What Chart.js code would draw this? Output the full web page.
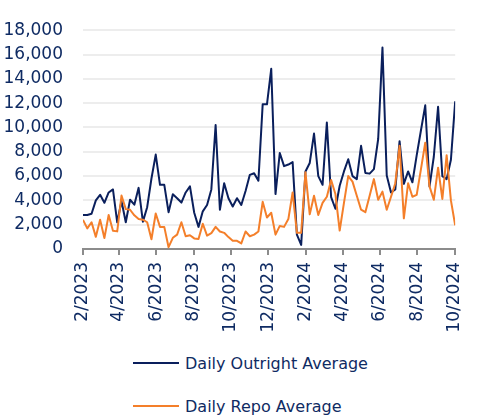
<!DOCTYPE html>
<html>
<head>
<meta charset="utf-8">
<script src="https://cdn.jsdelivr.net/npm/chart.js@4.4.1/dist/chart.umd.min.js"></script>
<style>
  html, body { margin: 0; padding: 0; background: #fff; }
  #wrap   { position: relative; width: 482px; height: 419px; overflow: hidden; }
  #chart  { position: absolute; left: 0; top: 0; }
  .legend-row {
      position: absolute; left: 133px; height: 20px;
      display: flex; align-items: center; white-space: nowrap;
      font: 16px "DejaVu Sans", sans-serif; color: #0F2B63;
  }
  .legend-swatch { width: 46px; height: 2px; margin-right: 6px; }
</style>
</head>
<body>
<div id="wrap">
  <canvas id="chart" width="482" height="340"></canvas>
  <div id="legend"></div>
</div>
<script>
// ─── Data ─────────────────────────────────────────────────────────────────────

// weekly observations, first week starting 1 Feb 2023
const firstWeek = '2023-02-01';

const outrightAvg = [
    2800, 2800, 2900, 4000, 4460, 3800, 4650, 4900, 2200, 3950,
    2200, 4050, 3650, 5030, 2250, 3440, 5800, 7770, 5280, 5280,
    3030, 4500, 4180, 3820, 4650, 5150, 2980, 1820, 3100, 3620,
    4900, 10200, 3230, 5410, 4180, 3490, 4180, 3620, 4770, 6100,
    6230, 5620, 11900, 11900, 14820, 4520, 7900, 6820, 6950, 7150,
    1180, 340, 6380, 7080, 9500, 6000, 5280, 10400, 4260, 3310,
    5200, 6380, 7380, 6000, 5750, 8490, 6260, 6200, 6570, 9050,
    16570, 6050, 4650, 4900, 8870, 5360, 6380, 5490, 7700, 9770,
    11820, 5150, 7590, 11700, 6000, 5750, 7340, 12150,
];

const repoAvg = [
    2400, 1700, 2200, 1000, 2400, 900, 2800, 1500, 1450, 4400,
    3280, 3230, 2770, 2460, 2410, 2200, 800, 2920, 1820, 1820,
    150, 920, 1180, 2200, 1050, 1130, 870, 820, 2080, 1100,
    1310, 1820, 1440, 1330, 980, 670, 670, 460, 1440, 1050,
    1180, 1440, 3880, 2590, 2980, 1180, 1900, 1820, 2460, 4650,
    1330, 1330, 6310, 2850, 4380, 2800, 3800, 4300, 5670, 4520,
    1520, 3800, 6000, 5540, 4380, 3230, 3030, 4380, 5750, 4050,
    4720, 3230, 4300, 5410, 8490, 2520, 5410, 4300, 4450, 6570,
    8750, 5150, 4050, 6690, 4120, 7720, 4000, 1950,
];

const seriesNames = ['Daily Outright Average', 'Daily Repo Average'];
const tickLabels  = ['2/2023', '4/2023', '6/2023', '8/2023', '10/2023', '12/2023',
                     '2/2024', '4/2024', '6/2024', '8/2024', '10/2024'];
const yMax  = 18000;
const yStep = 2000;

// ─── Helpers ──────────────────────────────────────────────────────────────────

const DAY = 86400000;
const TEXT = '#0F2B63';
const FONT = '"DejaVu Sans", sans-serif';

const startDay = Date.parse(firstWeek) / DAY;
const weekDay  = i => startDay + 7 * i;

// '4/2023' -> day number of 1 April 2023
function labelToDay(label) {
    const [m, y] = label.split('/').map(Number);
    return Date.UTC(y, m - 1, 1) / DAY;
}

const toPoints = values => values.map((v, i) => ({ x: weekDay(i), y: v }));

// ─── Chart ────────────────────────────────────────────────────────────────────

const colors = ['#0A1F5C', '#F47F2A'];

const chart = new Chart(document.getElementById('chart'), {
    type: 'line',
    data: {
        datasets: [
            { label: seriesNames[0], data: toPoints(outrightAvg), borderColor: colors[0], order: 2 },
            { label: seriesNames[1], data: toPoints(repoAvg),     borderColor: colors[1], order: 1 },
        ],
    },
    options: {
        responsive:       false,
        devicePixelRatio: 1,
        animation:        false,
        layout:   { padding: { top: 15, right: 13, bottom: 0, left: 0 } },
        elements: {
            line:  { borderWidth: 2, tension: 0, borderJoinStyle: 'round', fill: false },
            point: { radius: 0 },
        },
        plugins: { legend: { display: false }, tooltip: { enabled: false } },
        scales: {
            x: {
                type: 'linear',
                min:  weekDay(0),
                max:  weekDay(outrightAvg.length - 1),
                afterBuildTicks: axis => { axis.ticks = tickLabels.map(l => ({ value: labelToDay(l) })); },
                afterFit: axis => { axis.height = 91; },
                ticks: {
                    autoSkip: false, minRotation: 90, maxRotation: 90, padding: 7,
                    color: TEXT, font: { family: FONT, size: 17 },
                    callback: (value, index) => tickLabels[index],
                },
                grid:   { drawOnChartArea: false, tickLength: 6, color: '#8C8C8C', lineWidth: 2 },
                border: { color: '#8C8C8C', width: 2 },
            },
            y: {
                min: 0,
                max: yMax,
                afterFit: axis => { axis.width = 83; },
                ticks: {
                    stepSize: yStep, padding: 20,
                    color: TEXT, font: { family: FONT, size: 17 },
                    callback: v => v.toLocaleString('en-US'),
                },
                grid:   { color: '#EDEDED', lineWidth: 2, drawTicks: false },
                border: { display: false },
            },
        },
    },
});

// ─── Legend (stacked rows under the plot) ─────────────────────────────────────

const legendRoot = document.getElementById('legend');
chart.data.datasets.forEach((ds, i) => {
    const row = document.createElement('div');
    row.className = 'legend-row';
    row.style.top = (353 + 43 * i) + 'px';

    const swatch = document.createElement('span');
    swatch.className = 'legend-swatch';
    swatch.style.background = ds.borderColor;

    const text = document.createElement('span');
    text.textContent = ds.label;

    row.append(swatch, text);
    legendRoot.appendChild(row);
});
</script>
</body>
</html>
